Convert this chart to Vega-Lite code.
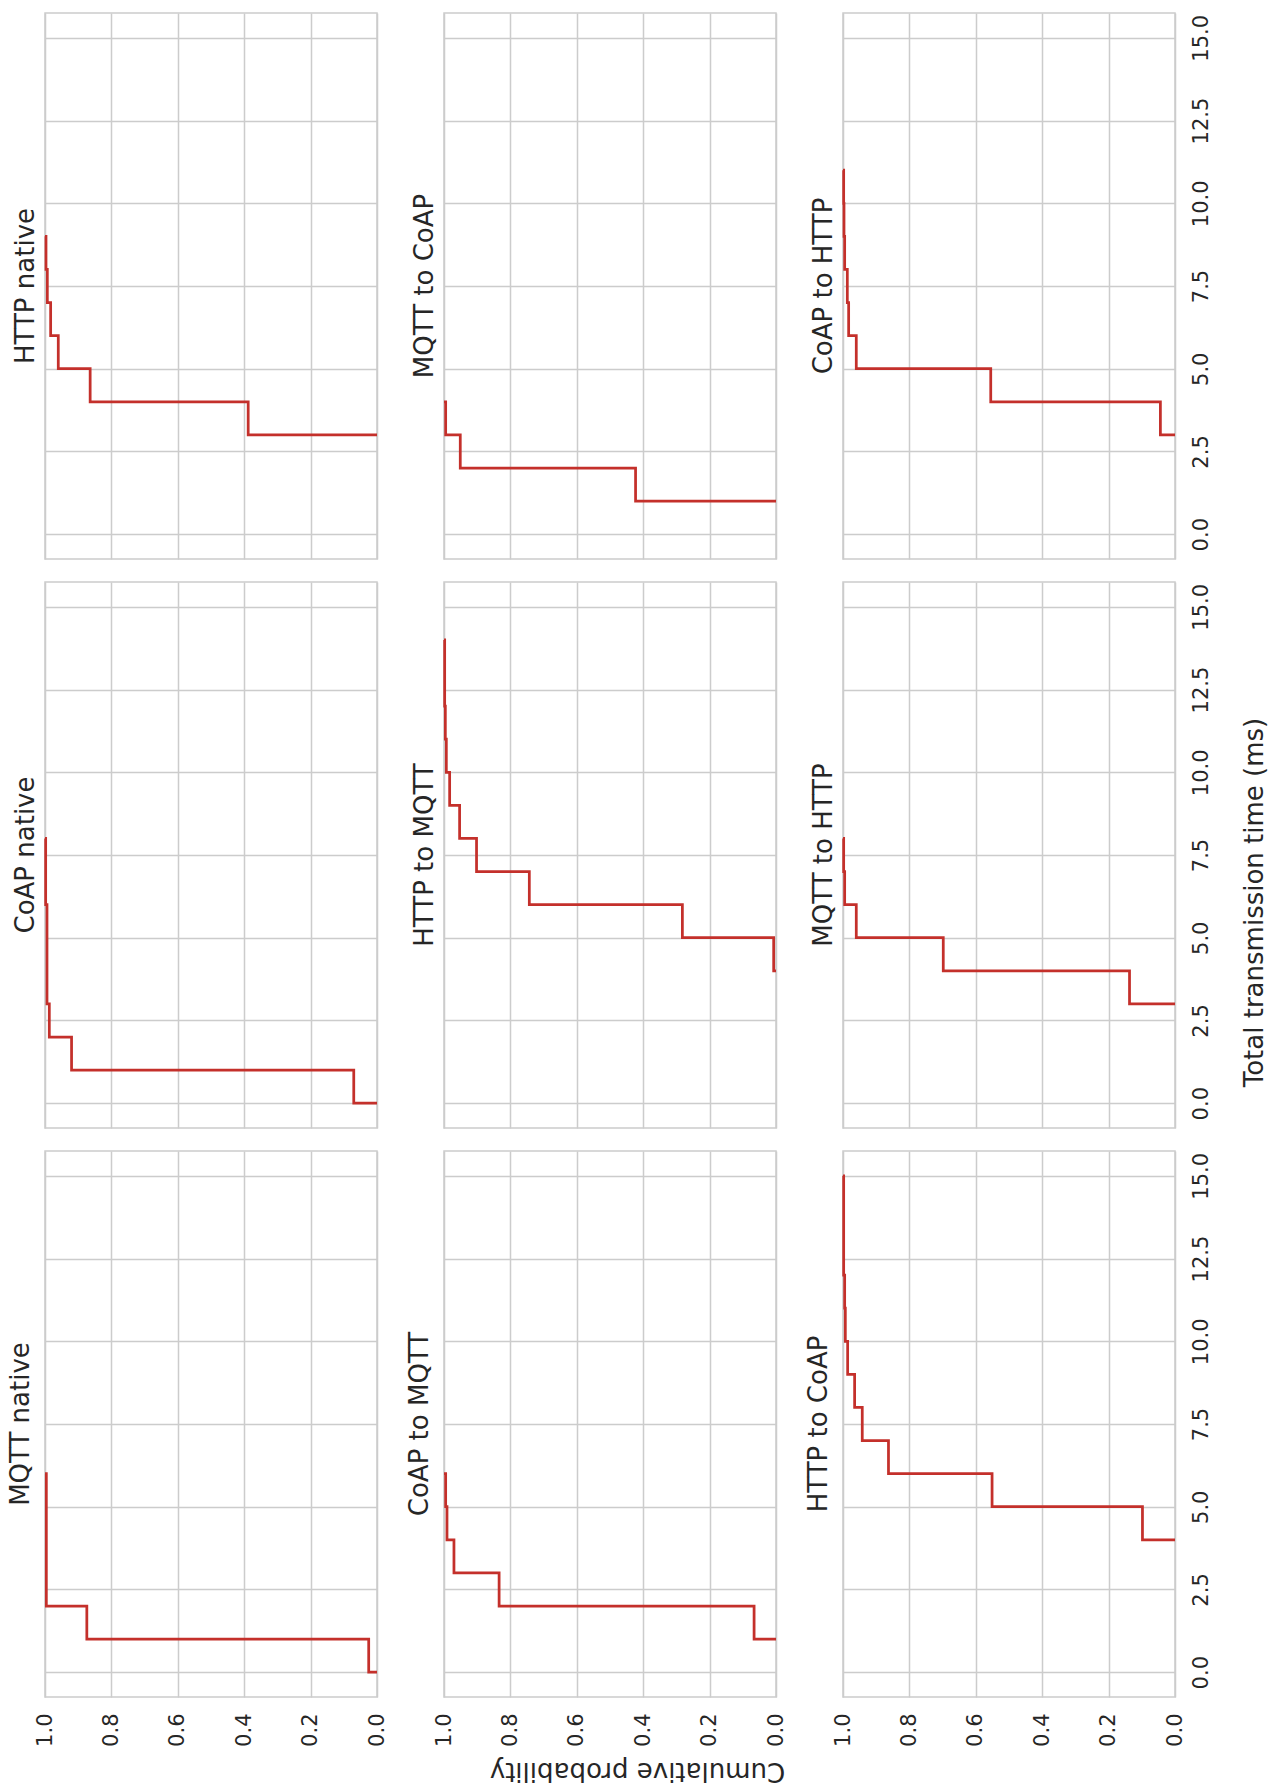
{
  "$schema": "https://vega.github.io/schema/vega-lite/v6.json",
  "padding": {"left": 6, "top": 12, "right": 10, "bottom": 10},
  "background": "white",
  "datasets": {
    "ecdf": [
      {"panel": "HTTP native", "time_ms": 3, "cum_prob": 0},
      {"panel": "HTTP native", "time_ms": 3, "cum_prob": 0.388},
      {"panel": "HTTP native", "time_ms": 4, "cum_prob": 0.864},
      {"panel": "HTTP native", "time_ms": 5, "cum_prob": 0.96},
      {"panel": "HTTP native", "time_ms": 6, "cum_prob": 0.983},
      {"panel": "HTTP native", "time_ms": 7, "cum_prob": 0.993},
      {"panel": "HTTP native", "time_ms": 8, "cum_prob": 0.997},
      {"panel": "HTTP native", "time_ms": 9, "cum_prob": 1.0},

      {"panel": "MQTT to CoAP", "time_ms": 1, "cum_prob": 0},
      {"panel": "MQTT to CoAP", "time_ms": 1, "cum_prob": 0.423},
      {"panel": "MQTT to CoAP", "time_ms": 2, "cum_prob": 0.951},
      {"panel": "MQTT to CoAP", "time_ms": 3, "cum_prob": 0.995},
      {"panel": "MQTT to CoAP", "time_ms": 4, "cum_prob": 1.0},

      {"panel": "CoAP to HTTP", "time_ms": 3, "cum_prob": 0},
      {"panel": "CoAP to HTTP", "time_ms": 3, "cum_prob": 0.044},
      {"panel": "CoAP to HTTP", "time_ms": 4, "cum_prob": 0.555},
      {"panel": "CoAP to HTTP", "time_ms": 5, "cum_prob": 0.96},
      {"panel": "CoAP to HTTP", "time_ms": 6, "cum_prob": 0.983},
      {"panel": "CoAP to HTTP", "time_ms": 7, "cum_prob": 0.987},
      {"panel": "CoAP to HTTP", "time_ms": 8, "cum_prob": 0.995},
      {"panel": "CoAP to HTTP", "time_ms": 9, "cum_prob": 0.997},
      {"panel": "CoAP to HTTP", "time_ms": 10, "cum_prob": 0.998},
      {"panel": "CoAP to HTTP", "time_ms": 11, "cum_prob": 1.0},

      {"panel": "CoAP native", "time_ms": 0, "cum_prob": 0},
      {"panel": "CoAP native", "time_ms": 0, "cum_prob": 0.07},
      {"panel": "CoAP native", "time_ms": 1, "cum_prob": 0.92},
      {"panel": "CoAP native", "time_ms": 2, "cum_prob": 0.987},
      {"panel": "CoAP native", "time_ms": 3, "cum_prob": 0.994},
      {"panel": "CoAP native", "time_ms": 6, "cum_prob": 0.998},
      {"panel": "CoAP native", "time_ms": 8, "cum_prob": 1.0},

      {"panel": "HTTP to MQTT", "time_ms": 4, "cum_prob": 0},
      {"panel": "HTTP to MQTT", "time_ms": 4, "cum_prob": 0.007},
      {"panel": "HTTP to MQTT", "time_ms": 5, "cum_prob": 0.282},
      {"panel": "HTTP to MQTT", "time_ms": 6, "cum_prob": 0.743},
      {"panel": "HTTP to MQTT", "time_ms": 7, "cum_prob": 0.902},
      {"panel": "HTTP to MQTT", "time_ms": 8, "cum_prob": 0.953},
      {"panel": "HTTP to MQTT", "time_ms": 9, "cum_prob": 0.983},
      {"panel": "HTTP to MQTT", "time_ms": 10, "cum_prob": 0.993},
      {"panel": "HTTP to MQTT", "time_ms": 11, "cum_prob": 0.996},
      {"panel": "HTTP to MQTT", "time_ms": 12, "cum_prob": 0.998},
      {"panel": "HTTP to MQTT", "time_ms": 14, "cum_prob": 1.0},

      {"panel": "MQTT to HTTP", "time_ms": 3, "cum_prob": 0},
      {"panel": "MQTT to HTTP", "time_ms": 3, "cum_prob": 0.137},
      {"panel": "MQTT to HTTP", "time_ms": 4, "cum_prob": 0.698},
      {"panel": "MQTT to HTTP", "time_ms": 5, "cum_prob": 0.96},
      {"panel": "MQTT to HTTP", "time_ms": 6, "cum_prob": 0.995},
      {"panel": "MQTT to HTTP", "time_ms": 7, "cum_prob": 0.998},
      {"panel": "MQTT to HTTP", "time_ms": 8, "cum_prob": 1.0},

      {"panel": "MQTT native", "time_ms": 0, "cum_prob": 0},
      {"panel": "MQTT native", "time_ms": 0, "cum_prob": 0.025},
      {"panel": "MQTT native", "time_ms": 1, "cum_prob": 0.874},
      {"panel": "MQTT native", "time_ms": 2, "cum_prob": 0.996},
      {"panel": "MQTT native", "time_ms": 6, "cum_prob": 1.0},

      {"panel": "CoAP to MQTT", "time_ms": 1, "cum_prob": 0},
      {"panel": "CoAP to MQTT", "time_ms": 1, "cum_prob": 0.066},
      {"panel": "CoAP to MQTT", "time_ms": 2, "cum_prob": 0.834},
      {"panel": "CoAP to MQTT", "time_ms": 3, "cum_prob": 0.97},
      {"panel": "CoAP to MQTT", "time_ms": 4, "cum_prob": 0.991},
      {"panel": "CoAP to MQTT", "time_ms": 5, "cum_prob": 0.995},
      {"panel": "CoAP to MQTT", "time_ms": 6, "cum_prob": 1.0},

      {"panel": "HTTP to CoAP", "time_ms": 4, "cum_prob": 0},
      {"panel": "HTTP to CoAP", "time_ms": 4, "cum_prob": 0.098},
      {"panel": "HTTP to CoAP", "time_ms": 5, "cum_prob": 0.551},
      {"panel": "HTTP to CoAP", "time_ms": 6, "cum_prob": 0.863},
      {"panel": "HTTP to CoAP", "time_ms": 7, "cum_prob": 0.942},
      {"panel": "HTTP to CoAP", "time_ms": 8, "cum_prob": 0.965},
      {"panel": "HTTP to CoAP", "time_ms": 9, "cum_prob": 0.986},
      {"panel": "HTTP to CoAP", "time_ms": 10, "cum_prob": 0.993},
      {"panel": "HTTP to CoAP", "time_ms": 11, "cum_prob": 0.995},
      {"panel": "HTTP to CoAP", "time_ms": 12, "cum_prob": 0.998},
      {"panel": "HTTP to CoAP", "time_ms": 15, "cum_prob": 1.0}
    ]
  },
  "columns": 3,
  "spacing": {"row": 23, "column": 67},
  "bounds": "flush",
  "concat": [
    {
      "title": "HTTP native",
      "width": 332, "height": 546,
      "data": {"name": "ecdf"},
      "transform": [{"filter": {"field": "panel", "equal": "HTTP native"}}],
      "mark": {"type": "line", "interpolate": "step-before", "color": "#c4302b", "strokeWidth": 2.75},
      "encoding": {
        "x": {"field": "cum_prob", "type": "quantitative", "scale": {"domain": [0, 1], "reverse": true, "nice": false}, "axis": {"labels": false, "title": null, "values": [0, 0.2, 0.4, 0.6, 0.8, 1.0]}},
        "y": {"field": "time_ms", "type": "quantitative", "scale": {"domain": [-0.75, 15.75], "nice": false, "zero": false}, "axis": {"labels": false, "title": null, "values": [0, 2.5, 5, 7.5, 10, 12.5, 15]}},
        "order": {"field": "cum_prob", "type": "quantitative"}
      }
    },
    {
      "title": "MQTT to CoAP",
      "width": 332, "height": 546,
      "data": {"name": "ecdf"},
      "transform": [{"filter": {"field": "panel", "equal": "MQTT to CoAP"}}],
      "mark": {"type": "line", "interpolate": "step-before", "color": "#c4302b", "strokeWidth": 2.75},
      "encoding": {
        "x": {"field": "cum_prob", "type": "quantitative", "scale": {"domain": [0, 1], "reverse": true, "nice": false}, "axis": {"labels": false, "title": null, "values": [0, 0.2, 0.4, 0.6, 0.8, 1.0]}},
        "y": {"field": "time_ms", "type": "quantitative", "scale": {"domain": [-0.75, 15.75], "nice": false, "zero": false}, "axis": {"labels": false, "title": null, "values": [0, 2.5, 5, 7.5, 10, 12.5, 15]}},
        "order": {"field": "cum_prob", "type": "quantitative"}
      }
    },
    {
      "title": "CoAP to HTTP",
      "width": 332, "height": 546,
      "data": {"name": "ecdf"},
      "transform": [{"filter": {"field": "panel", "equal": "CoAP to HTTP"}}],
      "mark": {"type": "line", "interpolate": "step-before", "color": "#c4302b", "strokeWidth": 2.75},
      "encoding": {
        "x": {"field": "cum_prob", "type": "quantitative", "scale": {"domain": [0, 1], "reverse": true, "nice": false}, "axis": {"labels": false, "title": null, "values": [0, 0.2, 0.4, 0.6, 0.8, 1.0]}},
        "y": {"field": "time_ms", "type": "quantitative", "scale": {"domain": [-0.75, 15.75], "nice": false, "zero": false}, "axis": {"orient": "right", "title": null, "format": ".1f", "labelAngle": -90, "labelAlign": "center", "labelBaseline": "top", "labelPadding": 15, "values": [0, 2.5, 5, 7.5, 10, 12.5, 15]}},
        "order": {"field": "cum_prob", "type": "quantitative"}
      }
    },
    {
      "title": "CoAP native",
      "width": 332, "height": 546,
      "data": {"name": "ecdf"},
      "transform": [{"filter": {"field": "panel", "equal": "CoAP native"}}],
      "mark": {"type": "line", "interpolate": "step-before", "color": "#c4302b", "strokeWidth": 2.75},
      "encoding": {
        "x": {"field": "cum_prob", "type": "quantitative", "scale": {"domain": [0, 1], "reverse": true, "nice": false}, "axis": {"labels": false, "title": null, "values": [0, 0.2, 0.4, 0.6, 0.8, 1.0]}},
        "y": {"field": "time_ms", "type": "quantitative", "scale": {"domain": [-0.75, 15.75], "nice": false, "zero": false}, "axis": {"labels": false, "title": null, "values": [0, 2.5, 5, 7.5, 10, 12.5, 15]}},
        "order": {"field": "cum_prob", "type": "quantitative"}
      }
    },
    {
      "title": "HTTP to MQTT",
      "width": 332, "height": 546,
      "data": {"name": "ecdf"},
      "transform": [{"filter": {"field": "panel", "equal": "HTTP to MQTT"}}],
      "mark": {"type": "line", "interpolate": "step-before", "color": "#c4302b", "strokeWidth": 2.75},
      "encoding": {
        "x": {"field": "cum_prob", "type": "quantitative", "scale": {"domain": [0, 1], "reverse": true, "nice": false}, "axis": {"labels": false, "title": null, "values": [0, 0.2, 0.4, 0.6, 0.8, 1.0]}},
        "y": {"field": "time_ms", "type": "quantitative", "scale": {"domain": [-0.75, 15.75], "nice": false, "zero": false}, "axis": {"labels": false, "title": null, "values": [0, 2.5, 5, 7.5, 10, 12.5, 15]}},
        "order": {"field": "cum_prob", "type": "quantitative"}
      }
    },
    {
      "title": "MQTT to HTTP",
      "width": 332, "height": 546,
      "data": {"name": "ecdf"},
      "transform": [{"filter": {"field": "panel", "equal": "MQTT to HTTP"}}],
      "mark": {"type": "line", "interpolate": "step-before", "color": "#c4302b", "strokeWidth": 2.75},
      "encoding": {
        "x": {"field": "cum_prob", "type": "quantitative", "scale": {"domain": [0, 1], "reverse": true, "nice": false}, "axis": {"labels": false, "title": null, "values": [0, 0.2, 0.4, 0.6, 0.8, 1.0]}},
        "y": {"field": "time_ms", "type": "quantitative", "scale": {"domain": [-0.75, 15.75], "nice": false, "zero": false}, "axis": {"orient": "right", "title": "Total transmission time (ms)", "titleAngle": -90, "titleAlign": "center", "titleBaseline": "middle", "titleX": 79, "titleY": 320, "format": ".1f", "labelAngle": -90, "labelAlign": "center", "labelBaseline": "top", "labelPadding": 15, "values": [0, 2.5, 5, 7.5, 10, 12.5, 15]}},
        "order": {"field": "cum_prob", "type": "quantitative"}
      }
    },
    {
      "title": "MQTT native",
      "width": 332, "height": 546,
      "data": {"name": "ecdf"},
      "transform": [{"filter": {"field": "panel", "equal": "MQTT native"}}],
      "mark": {"type": "line", "interpolate": "step-before", "color": "#c4302b", "strokeWidth": 2.75},
      "encoding": {
        "x": {"field": "cum_prob", "type": "quantitative", "scale": {"domain": [0, 1], "reverse": true, "nice": false}, "axis": {"title": null, "format": ".1f", "labelAngle": -90, "labelAlign": "right", "labelBaseline": "middle", "labelPadding": 16, "values": [0, 0.2, 0.4, 0.6, 0.8, 1.0]}},
        "y": {"field": "time_ms", "type": "quantitative", "scale": {"domain": [-0.75, 15.75], "nice": false, "zero": false}, "axis": {"labels": false, "title": null, "values": [0, 2.5, 5, 7.5, 10, 12.5, 15]}},
        "order": {"field": "cum_prob", "type": "quantitative"}
      }
    },
    {
      "title": "CoAP to MQTT",
      "width": 332, "height": 546,
      "data": {"name": "ecdf"},
      "transform": [{"filter": {"field": "panel", "equal": "CoAP to MQTT"}}],
      "mark": {"type": "line", "interpolate": "step-before", "color": "#c4302b", "strokeWidth": 2.75},
      "encoding": {
        "x": {"field": "cum_prob", "type": "quantitative", "scale": {"domain": [0, 1], "reverse": true, "nice": false}, "axis": {"title": "Cumulative probability", "titleAngle": 180, "titleAlign": "center", "titleBaseline": "middle", "titleX": 193, "titleY": 73, "format": ".1f", "labelAngle": -90, "labelAlign": "right", "labelBaseline": "middle", "labelPadding": 16, "values": [0, 0.2, 0.4, 0.6, 0.8, 1.0]}},
        "y": {"field": "time_ms", "type": "quantitative", "scale": {"domain": [-0.75, 15.75], "nice": false, "zero": false}, "axis": {"labels": false, "title": null, "values": [0, 2.5, 5, 7.5, 10, 12.5, 15]}},
        "order": {"field": "cum_prob", "type": "quantitative"}
      }
    },
    {
      "title": "HTTP to CoAP",
      "width": 332, "height": 546,
      "data": {"name": "ecdf"},
      "transform": [{"filter": {"field": "panel", "equal": "HTTP to CoAP"}}],
      "mark": {"type": "line", "interpolate": "step-before", "color": "#c4302b", "strokeWidth": 2.75},
      "encoding": {
        "x": {"field": "cum_prob", "type": "quantitative", "scale": {"domain": [0, 1], "reverse": true, "nice": false}, "axis": {"title": null, "format": ".1f", "labelAngle": -90, "labelAlign": "right", "labelBaseline": "middle", "labelPadding": 16, "values": [0, 0.2, 0.4, 0.6, 0.8, 1.0]}},
        "y": {"field": "time_ms", "type": "quantitative", "scale": {"domain": [-0.75, 15.75], "nice": false, "zero": false}, "axis": {"orient": "right", "title": null, "format": ".1f", "labelAngle": -90, "labelAlign": "center", "labelBaseline": "top", "labelPadding": 15, "values": [0, 2.5, 5, 7.5, 10, 12.5, 15]}},
        "order": {"field": "cum_prob", "type": "quantitative"}
      }
    }
  ],
  "config": {
    "font": "DejaVu Sans",
    "view": {"stroke": "#cccccc", "strokeWidth": 1.5},
    "axis": {
      "grid": true, "gridColor": "#cccccc", "gridWidth": 1.5,
      "domain": false, "ticks": false, "tickSize": 0,
      "labelFont": "DejaVu Sans", "labelFontSize": 21, "labelColor": "#262626",
      "labelFlush": false, "labelOverlap": false, "labelBound": false,
      "titleFont": "DejaVu Sans", "titleFontSize": 26, "titleFontWeight": "normal", "titleColor": "#262626"
    },
    "title": {
      "font": "DejaVu Sans", "fontSize": 26, "fontWeight": "normal", "color": "#262626",
      "orient": "left", "anchor": "middle", "frame": "group", "angle": -90, "offset": 0.5
    }
  }
}
